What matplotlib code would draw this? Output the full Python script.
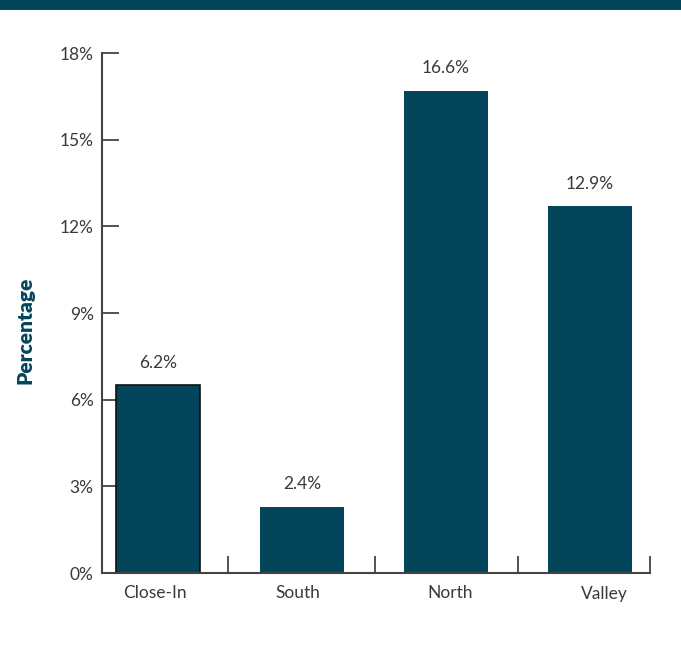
import matplotlib
matplotlib.use("Agg")
import matplotlib.pyplot as plt
from matplotlib.patches import Rectangle

# data
regions = ["Close-In", "South", "North", "Valley"]
heights = [6.5, 2.3, 16.7, 12.7]          # bar heights as drawn
value_labels = ["6.2%", "2.4%", "16.6%", "12.9%"]
yticks = [0, 3, 6, 9, 12, 15, 18]

TEAL = "#03455a"
GREY = "#3a3a3a"
plt.rcParams["font.family"] = ["Lato", "DejaVu Sans"]

fig = plt.figure(figsize=(6.81, 6.56), dpi=100)
fig.patch.set_facecolor("white")

# top band
fig.add_artist(Rectangle((0, 1 - 10 / 656), 1, 10 / 656, transform=fig.transFigure,
                         facecolor=TEAL, edgecolor="none"))

ax = fig.add_axes([102 / 681, 1 - 573 / 656, (650 - 102) / 681, (573 - 53) / 656])
x = list(range(len(regions)))
bars = ax.bar(x, heights, width=0.585, color=TEAL, zorder=2)
bars[0].set_edgecolor("#111111")
bars[0].set_linewidth(1.2)

ax.set_xlim(-0.39, 3.42)
ax.set_ylim(0, 18)

for s in ["top", "right"]:
    ax.spines[s].set_visible(False)
for s in ["left", "bottom"]:
    ax.spines[s].set_color("#444444")
    ax.spines[s].set_linewidth(1.5)

ax.set_yticks(yticks)
ax.set_yticklabels([f"{t}%" for t in yticks], fontsize=12.5, color=GREY)
ax.tick_params(axis="y", direction="in", length=12, width=1.3, color="#444444", pad=6)

# label positions sit a little off the bar centres in the original
ax.set_xticks([-0.02, 0.97, 2.03, 3.10])
ax.set_xticklabels(regions, fontsize=12.5, color=GREY)
ax.tick_params(axis="x", which="major", length=0, pad=9)
ax.set_xticks([0.486, 1.51, 2.5, 3.42], minor=True)
ax.tick_params(axis="x", which="minor", direction="in", length=12, width=1.3, color="#444444")

for xi, h, lab in zip(x, heights, value_labels):
    ax.text(xi, h + 0.5, lab, ha="center", va="bottom", fontsize=12.5, color=GREY)

fig.text(25 / 681, 1 - 330 / 656, "Percentage", rotation=90, ha="center", va="center",
         fontsize=15, fontweight="heavy", color=TEAL)

fig.savefig("out.png", dpi=100)
